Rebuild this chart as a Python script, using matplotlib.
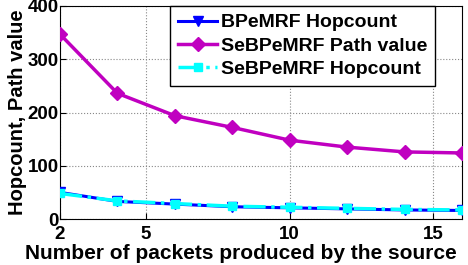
import matplotlib
matplotlib.use("Agg")
import matplotlib.pyplot as plt

packets = [2, 4, 6, 8, 10, 12, 14, 16]
bpe_hop = [50, 33, 28, 23, 21, 19, 17, 16]
sebpe_path = [347, 236, 194, 172, 148, 135, 126, 124]
sebpe_hop = [48, 34, 29, 24, 22, 20, 18, 17]

plt.rcParams["font.family"] = ["Liberation Sans", "DejaVu Sans"]
plt.rcParams["font.weight"] = "bold"

fig = plt.figure(figsize=(4.68, 2.65), dpi=100)
ax = fig.add_axes([60 / 468, 46 / 265, 402 / 468, 213 / 265])

ax.plot(packets, bpe_hop, color="#0000ff", lw=2.2, marker="v", ms=7,
        label="BPeMRF Hopcount", zorder=3)
ax.plot(packets, sebpe_path, color="#c000c0", lw=2.5, marker="D", ms=7,
        label="SeBPeMRF Path value", zorder=3)
ax.plot(packets, sebpe_hop, color="#00ffff", lw=2.5, ls="-.", marker="s", ms=6,
        label="SeBPeMRF Hopcount", zorder=4)

ax.set_xlim(2, 16)
ax.set_ylim(0, 400)
ax.set_xticks([2, 5, 10, 15])
ax.set_yticks([0, 100, 200, 300, 400])
ax.tick_params(direction="in", labelsize=13.5, length=4)
ax.tick_params(axis="x", pad=5)
ax.tick_params(axis="y", pad=1)
ax.grid(True, ls=":", color="#888888", lw=0.8)
ax.set_xlabel("Number of packets produced by the source", fontsize=15,
              fontweight="bold", va="center")
ax.xaxis.set_label_coords(0.45, -0.16)
ax.set_ylabel("Hopcount, Path value", fontsize=14.5, fontweight="bold",
              labelpad=0)

leg = ax.legend(loc="upper right", fontsize=14, fancybox=False,
                framealpha=1, edgecolor="black", borderpad=0.4,
                labelspacing=0.3, handlelength=2.0, handletextpad=0.2,
                borderaxespad=0.0, bbox_to_anchor=(0.933, 1.0))
leg.get_frame().set_linewidth(1.0)

fig.savefig("out.png", dpi=100)
